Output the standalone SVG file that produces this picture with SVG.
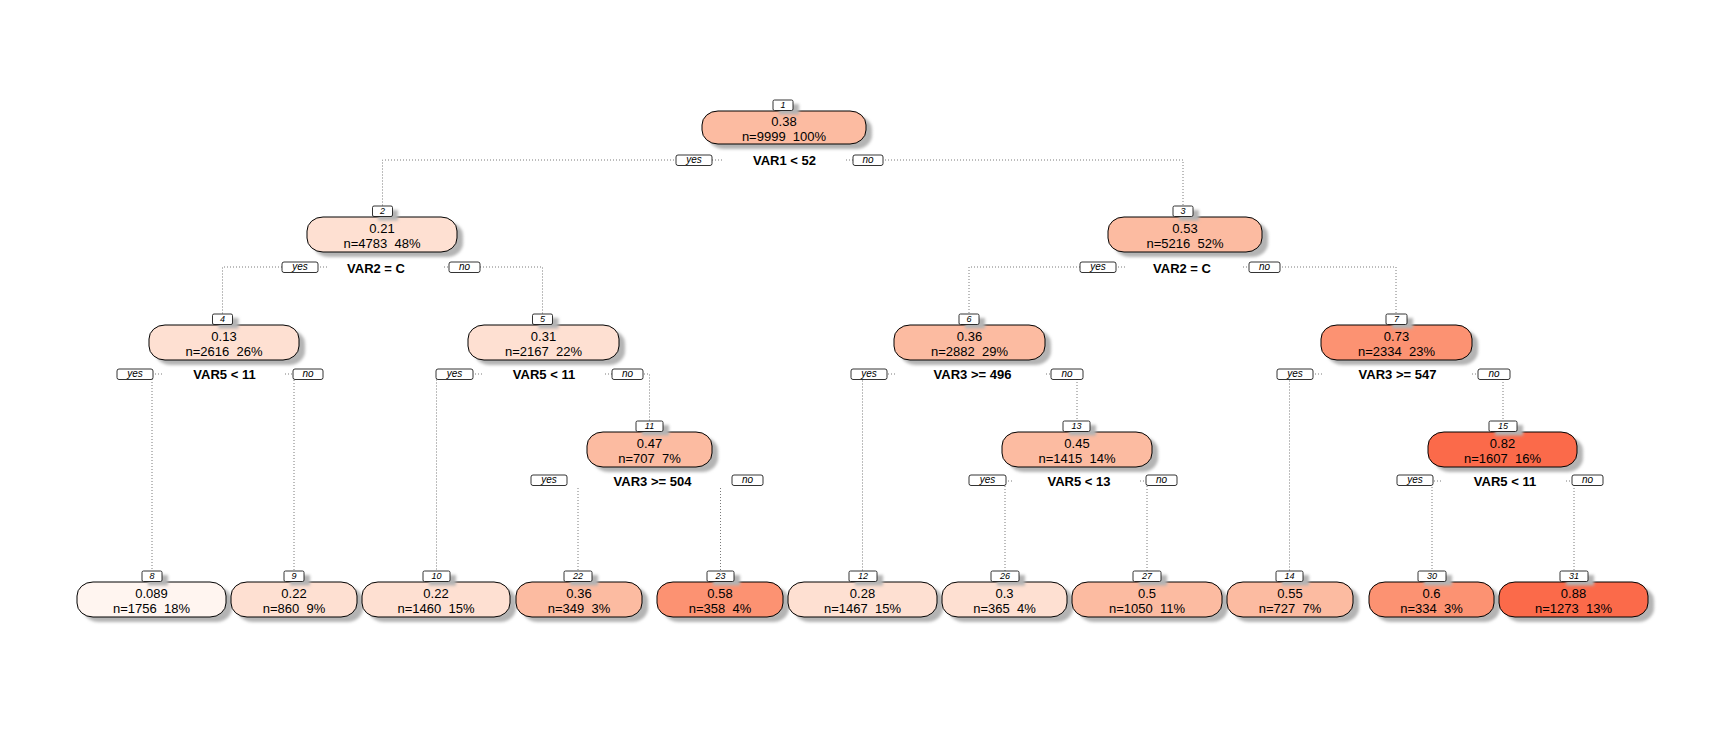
<svg xmlns="http://www.w3.org/2000/svg" width="1726" height="735" viewBox="0 0 1726 735">
<defs>
<filter id="blur" x="-20%" y="-40%" width="140%" height="180%"><feGaussianBlur stdDeviation="1.6"/></filter>
</defs>
<style>
.bg{fill:#fff}
.box{stroke:#000;stroke-width:1}
.sh{fill:#b4b4b4;filter:url(#blur)}
.lb{fill:#fff;stroke:#000;stroke-width:0.8}
.t{font-family:"Liberation Sans",Arial,sans-serif;font-size:13px;text-anchor:middle;fill:#000;white-space:pre}
.sp{font-weight:bold}
.num{font-size:9px;font-style:italic}
.yn{font-size:10px;font-style:italic}
.edge{fill:none;stroke:#7a7a7a;stroke-width:1;stroke-dasharray:1 2}
.c0{fill:#FFF5F0}.c1{fill:#FEE0D2}.c2{fill:#FCBBA1}.c3{fill:#FC9272}.c4{fill:#FB6A4A}
</style>
<rect class="bg" x="0" y="0" width="1726" height="735"/>
<g id="connectors">
<path class="edge" d="M722,160H382.5V206"/>
<path class="edge" d="M846,160H1183V206"/>
<path class="edge" d="M327,267H222.5V314"/>
<path class="edge" d="M444,267H542.5V314"/>
<path class="edge" d="M1125,267H969V314"/>
<path class="edge" d="M1243,267H1396V314"/>
<path class="edge" d="M162,374H152V571"/>
<path class="edge" d="M285,374H294V571"/>
<path class="edge" d="M482,374H436.5V571"/>
<path class="edge" d="M605,374H649.5V421"/>
<path class="edge" d="M895,374H862.5V571"/>
<path class="edge" d="M1046,374H1077V421"/>
<path class="edge" d="M1322,374H1289.5V571"/>
<path class="edge" d="M1472,374H1503V421"/>
<path class="edge" d="M578,488V571"/>
<path class="edge" d="M720.5,488V571"/>
<path class="edge" d="M1012,481H1005V571"/>
<path class="edge" d="M1140,481H1147V571"/>
<path class="edge" d="M1441,481H1432V571"/>
<path class="edge" d="M1566,481H1574V571"/>
</g>
<g id="edge-labels">
<rect class="lb" x="676" y="155" width="36" height="10.5" rx="2"/><text class="t yn" x="694" y="163">yes</text>
<rect class="lb" x="853" y="155" width="30" height="10.5" rx="2"/><text class="t yn" x="868" y="163">no</text>
<rect class="lb" x="282" y="262" width="36" height="10.5" rx="2"/><text class="t yn" x="300" y="270">yes</text>
<rect class="lb" x="449" y="262" width="31" height="10.5" rx="2"/><text class="t yn" x="464.5" y="270">no</text>
<rect class="lb" x="1080" y="262" width="36" height="10.5" rx="2"/><text class="t yn" x="1098" y="270">yes</text>
<rect class="lb" x="1249" y="262" width="31" height="10.5" rx="2"/><text class="t yn" x="1264.5" y="270">no</text>
<rect class="lb" x="117" y="369" width="36" height="10.5" rx="2"/><text class="t yn" x="135" y="377">yes</text>
<rect class="lb" x="293" y="369" width="30" height="10.5" rx="2"/><text class="t yn" x="308" y="377">no</text>
<rect class="lb" x="436" y="369" width="37" height="10.5" rx="2"/><text class="t yn" x="454.5" y="377">yes</text>
<rect class="lb" x="612" y="369" width="31" height="10.5" rx="2"/><text class="t yn" x="627.5" y="377">no</text>
<rect class="lb" x="851" y="369" width="36" height="10.5" rx="2"/><text class="t yn" x="869" y="377">yes</text>
<rect class="lb" x="1051" y="369" width="32" height="10.5" rx="2"/><text class="t yn" x="1067" y="377">no</text>
<rect class="lb" x="1277" y="369" width="36" height="10.5" rx="2"/><text class="t yn" x="1295" y="377">yes</text>
<rect class="lb" x="1478" y="369" width="32" height="10.5" rx="2"/><text class="t yn" x="1494" y="377">no</text>
<rect class="lb" x="531" y="475" width="36" height="10.5" rx="2"/><text class="t yn" x="549" y="483">yes</text>
<rect class="lb" x="732" y="475" width="31" height="10.5" rx="2"/><text class="t yn" x="747.5" y="483">no</text>
<rect class="lb" x="969" y="475" width="37" height="10.5" rx="2"/><text class="t yn" x="987.5" y="483">yes</text>
<rect class="lb" x="1146" y="475" width="31" height="10.5" rx="2"/><text class="t yn" x="1161.5" y="483">no</text>
<rect class="lb" x="1397" y="475" width="36" height="10.5" rx="2"/><text class="t yn" x="1415" y="483">yes</text>
<rect class="lb" x="1572" y="475" width="31" height="10.5" rx="2"/><text class="t yn" x="1587.5" y="483">no</text>
</g>
<g id="node1">
<rect class="sh" x="708" y="116" width="164" height="33" rx="16" ry="14"/>
<rect class="box c2" x="702" y="111" width="164" height="33" rx="16" ry="14"/>
<rect class="sh" x="779" y="104" width="20" height="10.5"/>
<rect class="lb" x="773" y="100" width="20" height="10.5" rx="1.5"/><text class="t num" x="783" y="108">1</text>
<text class="t" x="784" y="126">0.38</text>
<text class="t" x="784" y="140.5" xml:space="preserve">n=9999  100%</text>
<text class="t sp" x="784.5" y="165">VAR1 &lt; 52</text>
</g>
<g id="node2">
<rect class="sh" x="313" y="222" width="150" height="35" rx="16" ry="14"/>
<rect class="box c1" x="307" y="217" width="150" height="35" rx="16" ry="14"/>
<rect class="sh" x="378" y="210" width="20" height="10.5"/>
<rect class="lb" x="372.5" y="206" width="20" height="10.5" rx="1.5"/><text class="t num" x="382.5" y="214">2</text>
<text class="t" x="382" y="232.5">0.21</text>
<text class="t" x="382" y="247.5" xml:space="preserve">n=4783  48%</text>
<text class="t sp" x="376" y="273">VAR2 = C</text>
</g>
<g id="node3">
<rect class="sh" x="1114" y="222" width="154" height="35" rx="16" ry="14"/>
<rect class="box c2" x="1108" y="217" width="154" height="35" rx="16" ry="14"/>
<rect class="sh" x="1179" y="210" width="20" height="10.5"/>
<rect class="lb" x="1173" y="206" width="20" height="10.5" rx="1.5"/><text class="t num" x="1183" y="214">3</text>
<text class="t" x="1185" y="232.5">0.53</text>
<text class="t" x="1185" y="247.5" xml:space="preserve">n=5216  52%</text>
<text class="t sp" x="1182" y="273">VAR2 = C</text>
</g>
<g id="node4">
<rect class="sh" x="155" y="330" width="150" height="35" rx="16" ry="14"/>
<rect class="box c1" x="149" y="325" width="150" height="35" rx="16" ry="14"/>
<rect class="sh" x="218.5" y="318" width="20" height="10.5"/>
<rect class="lb" x="212.5" y="314" width="20" height="10.5" rx="1.5"/><text class="t num" x="222.5" y="322">4</text>
<text class="t" x="224" y="340.5">0.13</text>
<text class="t" x="224" y="355.5" xml:space="preserve">n=2616  26%</text>
<text class="t sp" x="224.5" y="379">VAR5 &lt; 11</text>
</g>
<g id="node5">
<rect class="sh" x="474" y="330" width="151" height="35" rx="16" ry="14"/>
<rect class="box c1" x="468" y="325" width="151" height="35" rx="16" ry="14"/>
<rect class="sh" x="538.5" y="318" width="20" height="10.5"/>
<rect class="lb" x="532.5" y="314" width="20" height="10.5" rx="1.5"/><text class="t num" x="542.5" y="322">5</text>
<text class="t" x="543.5" y="340.5">0.31</text>
<text class="t" x="543.5" y="355.5" xml:space="preserve">n=2167  22%</text>
<text class="t sp" x="544" y="379">VAR5 &lt; 11</text>
</g>
<g id="node6">
<rect class="sh" x="900" y="330" width="151" height="35" rx="16" ry="14"/>
<rect class="box c2" x="894" y="325" width="151" height="35" rx="16" ry="14"/>
<rect class="sh" x="965" y="318" width="20" height="10.5"/>
<rect class="lb" x="959" y="314" width="20" height="10.5" rx="1.5"/><text class="t num" x="969" y="322">6</text>
<text class="t" x="969.5" y="340.5">0.36</text>
<text class="t" x="969.5" y="355.5" xml:space="preserve">n=2882  29%</text>
<text class="t sp" x="972.5" y="379">VAR3 &gt;= 496</text>
</g>
<g id="node7">
<rect class="sh" x="1327" y="330" width="151" height="35" rx="16" ry="14"/>
<rect class="box c3" x="1321" y="325" width="151" height="35" rx="16" ry="14"/>
<rect class="sh" x="1392" y="318" width="21" height="10.5"/>
<rect class="lb" x="1386" y="314" width="21" height="10.5" rx="1.5"/><text class="t num" x="1396.5" y="322">7</text>
<text class="t" x="1396.5" y="340.5">0.73</text>
<text class="t" x="1396.5" y="355.5" xml:space="preserve">n=2334  23%</text>
<text class="t sp" x="1397.5" y="379">VAR3 &gt;= 547</text>
</g>
<g id="node11">
<rect class="sh" x="593" y="437" width="125" height="35" rx="16" ry="14"/>
<rect class="box c2" x="587" y="432" width="125" height="35" rx="16" ry="14"/>
<rect class="sh" x="642" y="425" width="27" height="10.5"/>
<rect class="lb" x="636" y="421" width="27" height="10.5" rx="1.5"/><text class="t num" x="649.5" y="429">11</text>
<text class="t" x="649.5" y="447.5">0.47</text>
<text class="t" x="649.5" y="462.5" xml:space="preserve">n=707  7%</text>
<text class="t sp" x="652.5" y="486">VAR3 &gt;= 504</text>
</g>
<g id="node13">
<rect class="sh" x="1008" y="437" width="150" height="35" rx="16" ry="14"/>
<rect class="box c2" x="1002" y="432" width="150" height="35" rx="16" ry="14"/>
<rect class="sh" x="1069" y="425" width="27" height="10.5"/>
<rect class="lb" x="1063" y="421" width="27" height="10.5" rx="1.5"/><text class="t num" x="1076.5" y="429">13</text>
<text class="t" x="1077" y="447.5">0.45</text>
<text class="t" x="1077" y="462.5" xml:space="preserve">n=1415  14%</text>
<text class="t sp" x="1079" y="486">VAR5 &lt; 13</text>
</g>
<g id="node15">
<rect class="sh" x="1434" y="437" width="149" height="35" rx="16" ry="14"/>
<rect class="box c4" x="1428" y="432" width="149" height="35" rx="16" ry="14"/>
<rect class="sh" x="1495" y="425" width="28" height="10.5"/>
<rect class="lb" x="1489" y="421" width="28" height="10.5" rx="1.5"/><text class="t num" x="1503" y="429">15</text>
<text class="t" x="1502.5" y="447.5">0.82</text>
<text class="t" x="1502.5" y="462.5" xml:space="preserve">n=1607  16%</text>
<text class="t sp" x="1505" y="486">VAR5 &lt; 11</text>
</g>
<g id="node8">
<rect class="sh" x="83" y="587" width="149" height="35" rx="16" ry="14"/>
<rect class="box c0" x="77" y="582" width="149" height="35" rx="16" ry="14"/>
<rect class="sh" x="148" y="575" width="20" height="10.5"/>
<rect class="lb" x="142" y="571" width="20" height="10.5" rx="1.5"/><text class="t num" x="152" y="579">8</text>
<text class="t" x="151.5" y="597.5">0.089</text>
<text class="t" x="151.5" y="612.5" xml:space="preserve">n=1756  18%</text>
</g>
<g id="node9">
<rect class="sh" x="237" y="587" width="126" height="35" rx="16" ry="14"/>
<rect class="box c1" x="231" y="582" width="126" height="35" rx="16" ry="14"/>
<rect class="sh" x="290" y="575" width="20" height="10.5"/>
<rect class="lb" x="284" y="571" width="20" height="10.5" rx="1.5"/><text class="t num" x="294" y="579">9</text>
<text class="t" x="294" y="597.5">0.22</text>
<text class="t" x="294" y="612.5" xml:space="preserve">n=860  9%</text>
</g>
<g id="node10">
<rect class="sh" x="368" y="587" width="148" height="35" rx="16" ry="14"/>
<rect class="box c1" x="362" y="582" width="148" height="35" rx="16" ry="14"/>
<rect class="sh" x="429" y="575" width="27" height="10.5"/>
<rect class="lb" x="423" y="571" width="27" height="10.5" rx="1.5"/><text class="t num" x="436.5" y="579">10</text>
<text class="t" x="436" y="597.5">0.22</text>
<text class="t" x="436" y="612.5" xml:space="preserve">n=1460  15%</text>
</g>
<g id="node22">
<rect class="sh" x="522" y="587" width="126" height="35" rx="16" ry="14"/>
<rect class="box c2" x="516" y="582" width="126" height="35" rx="16" ry="14"/>
<rect class="sh" x="570" y="575" width="28" height="10.5"/>
<rect class="lb" x="564" y="571" width="28" height="10.5" rx="1.5"/><text class="t num" x="578" y="579">22</text>
<text class="t" x="579" y="597.5">0.36</text>
<text class="t" x="579" y="612.5" xml:space="preserve">n=349  3%</text>
</g>
<g id="node23">
<rect class="sh" x="663" y="587" width="126" height="35" rx="16" ry="14"/>
<rect class="box c3" x="657" y="582" width="126" height="35" rx="16" ry="14"/>
<rect class="sh" x="713" y="575" width="27" height="10.5"/>
<rect class="lb" x="707" y="571" width="27" height="10.5" rx="1.5"/><text class="t num" x="720.5" y="579">23</text>
<text class="t" x="720" y="597.5">0.58</text>
<text class="t" x="720" y="612.5" xml:space="preserve">n=358  4%</text>
</g>
<g id="node12">
<rect class="sh" x="794" y="587" width="149" height="35" rx="16" ry="14"/>
<rect class="box c1" x="788" y="582" width="149" height="35" rx="16" ry="14"/>
<rect class="sh" x="855" y="575" width="28" height="10.5"/>
<rect class="lb" x="849" y="571" width="28" height="10.5" rx="1.5"/><text class="t num" x="863" y="579">12</text>
<text class="t" x="862.5" y="597.5">0.28</text>
<text class="t" x="862.5" y="612.5" xml:space="preserve">n=1467  15%</text>
</g>
<g id="node26">
<rect class="sh" x="948" y="587" width="125" height="35" rx="16" ry="14"/>
<rect class="box c1" x="942" y="582" width="125" height="35" rx="16" ry="14"/>
<rect class="sh" x="997" y="575" width="28" height="10.5"/>
<rect class="lb" x="991" y="571" width="28" height="10.5" rx="1.5"/><text class="t num" x="1005" y="579">26</text>
<text class="t" x="1004.5" y="597.5">0.3</text>
<text class="t" x="1004.5" y="612.5" xml:space="preserve">n=365  4%</text>
</g>
<g id="node27">
<rect class="sh" x="1078" y="587" width="150" height="35" rx="16" ry="14"/>
<rect class="box c2" x="1072" y="582" width="150" height="35" rx="16" ry="14"/>
<rect class="sh" x="1139" y="575" width="28" height="10.5"/>
<rect class="lb" x="1133" y="571" width="28" height="10.5" rx="1.5"/><text class="t num" x="1147" y="579">27</text>
<text class="t" x="1147" y="597.5">0.5</text>
<text class="t" x="1147" y="612.5" xml:space="preserve">n=1050  11%</text>
</g>
<g id="node14">
<rect class="sh" x="1233" y="587" width="126" height="35" rx="16" ry="14"/>
<rect class="box c2" x="1227" y="582" width="126" height="35" rx="16" ry="14"/>
<rect class="sh" x="1282" y="575" width="27" height="10.5"/>
<rect class="lb" x="1276" y="571" width="27" height="10.5" rx="1.5"/><text class="t num" x="1289.5" y="579">14</text>
<text class="t" x="1290" y="597.5">0.55</text>
<text class="t" x="1290" y="612.5" xml:space="preserve">n=727  7%</text>
</g>
<g id="node30">
<rect class="sh" x="1375" y="587" width="125" height="35" rx="16" ry="14"/>
<rect class="box c3" x="1369" y="582" width="125" height="35" rx="16" ry="14"/>
<rect class="sh" x="1424" y="575" width="28" height="10.5"/>
<rect class="lb" x="1418" y="571" width="28" height="10.5" rx="1.5"/><text class="t num" x="1432" y="579">30</text>
<text class="t" x="1431.5" y="597.5">0.6</text>
<text class="t" x="1431.5" y="612.5" xml:space="preserve">n=334  3%</text>
</g>
<g id="node31">
<rect class="sh" x="1505" y="587" width="149" height="35" rx="16" ry="14"/>
<rect class="box c4" x="1499" y="582" width="149" height="35" rx="16" ry="14"/>
<rect class="sh" x="1566" y="575" width="28" height="10.5"/>
<rect class="lb" x="1560" y="571" width="28" height="10.5" rx="1.5"/><text class="t num" x="1574" y="579">31</text>
<text class="t" x="1573.5" y="597.5">0.88</text>
<text class="t" x="1573.5" y="612.5" xml:space="preserve">n=1273  13%</text>
</g>
</svg>
